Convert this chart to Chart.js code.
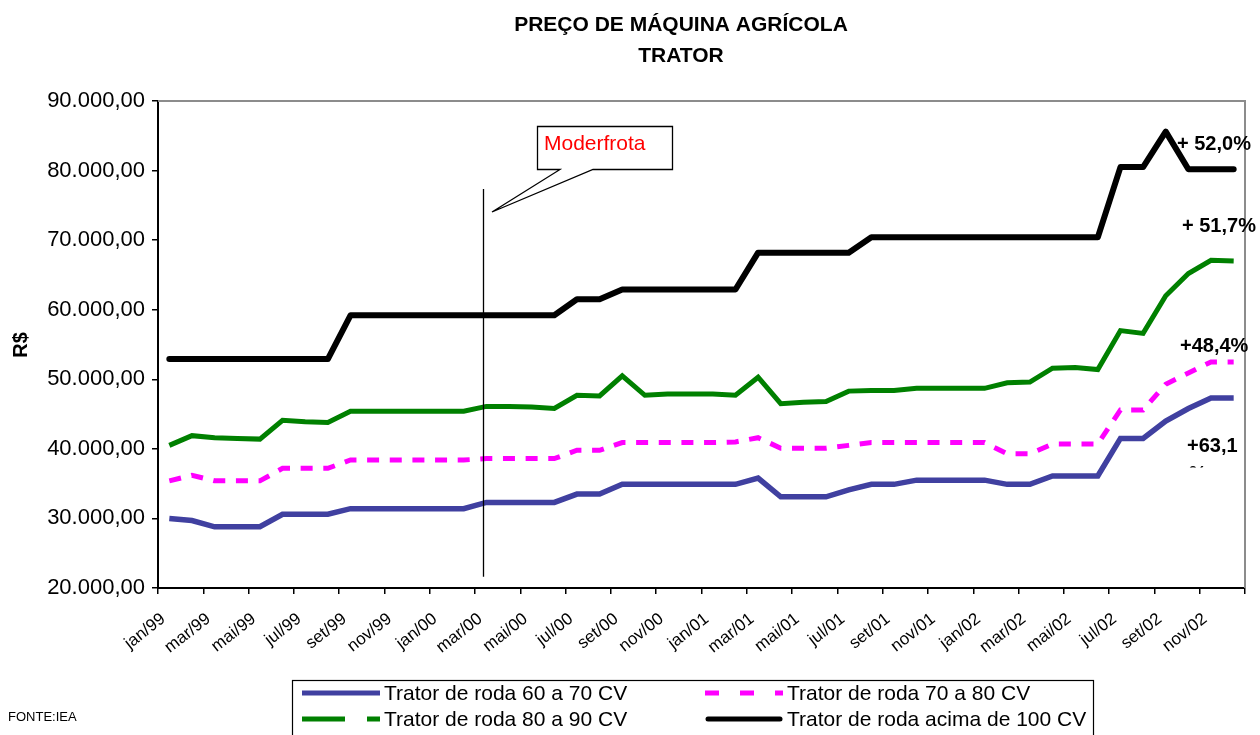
<!DOCTYPE html>
<html><head><meta charset="utf-8">
<script src="https://cdn.jsdelivr.net/npm/chart.js@4.4.1/dist/chart.umd.min.js"></script>
<style>html,body{margin:0;padding:0;background:#fff;overflow:hidden;} #c{display:block;}</style>
</head><body>
<canvas id="c" width="1260" height="735"></canvas>
<script>
// ---- DATA ----
const categories = [
  'jan/99','fev/99','mar/99','abr/99','mai/99','jun/99','jul/99','ago/99','set/99','out/99','nov/99','dez/99',
  'jan/00','fev/00','mar/00','abr/00','mai/00','jun/00','jul/00','ago/00','set/00','out/00','nov/00','dez/00',
  'jan/01','fev/01','mar/01','abr/01','mai/01','jun/01','jul/01','ago/01','set/01','out/01','nov/01','dez/01',
  'jan/02','fev/02','mar/02','abr/02','mai/02','jun/02','jul/02','ago/02','set/02','out/02','nov/02','dez/02'
];
const trator60a70 = [
  30000,29700,28800,28800,28800,30600,30600,30600,31400,31400,31400,31400,
  31400,31400,32300,32300,32300,32300,33500,33500,34900,34900,34900,34900,
  34900,34900,35800,33100,33100,33100,34100,34900,34900,35500,35500,35500,
  35500,34900,34900,36100,36100,36100,41500,41500,44000,45800,47300,47300
];
const trator70a80 = [
  35400,36200,35400,35400,35400,37200,37200,37200,38400,38400,38400,38400,
  38400,38400,38600,38600,38600,38600,39800,39800,40900,40900,40900,40900,
  40900,41000,41600,40100,40100,40100,40500,40900,40900,40900,40900,40900,
  40900,39300,39300,40700,40700,40700,45600,45600,49300,50900,52500,52500
];
const trator80a90 = [
  40500,41900,41600,41500,41400,44100,43900,43800,45400,45400,45400,45400,
  45400,45400,46100,46100,46000,45800,47700,47600,50500,47700,47900,47900,
  47900,47700,50300,46500,46700,46800,48300,48400,48400,48700,48700,48700,
  48700,49500,49600,51600,51700,51400,57000,56600,62000,65200,67100,67000
];
const tratorAcima100 = [
  52900,52900,52900,52900,52900,52900,52900,52900,59200,59200,59200,59200,
  59200,59200,59200,59200,59200,59200,61500,61500,62900,62900,62900,62900,
  62900,62900,68200,68200,68200,68200,68200,70400,70400,70400,70400,70400,
  70400,70400,70400,70400,70400,70400,80500,80500,85600,80200,80200,80200
];
const seriesNames = ['Trator de roda 60 a 70 CV','Trator de roda 70 a 80 CV','Trator de roda 80 a 90 CV','Trator de roda acima de 100 CV'];
const yMin = 20000, yMax = 90000, yStep = 10000;
const variations = ['+ 52,0%','+ 51,7%','+48,4%','+63,1'];
const titleLines = ['PREÇO DE MÁQUINA AGRÍCOLA','TRATOR'];

// ---- helpers ----
const FONT = '"Liberation Sans", Arial, Helvetica, sans-serif';
function fmtBR(v){
  const s = Math.round(v).toString().replace(/\B(?=(\d{3})+(?!\d))/g,'.');
  return s + ',00';
}
const COLORS = ['#4040A0','#FF00FF','#008000','#000000'];

const decor = {
  id:'decor',
  beforeDatasetsDraw(chart){
    const {ctx, chartArea:a} = chart;
    ctx.save();
    ctx.strokeStyle = '#8c8c8c'; ctx.lineWidth = 2;
    ctx.beginPath();
    ctx.moveTo(a.left, a.top); ctx.lineTo(a.right, a.top); ctx.lineTo(a.right, a.bottom);
    ctx.stroke();
    ctx.restore();
  },
  afterDatasetsDraw(chart){
    const {ctx} = chart;
    const xs = chart.scales.x, ys = chart.scales.y;
    ctx.save();
    // Moderfrota vertical marker
    const vx = Math.round(xs.getPixelForValue(13.86)) + 0.5;
    ctx.strokeStyle = '#000'; ctx.lineWidth = 1.3;
    ctx.beginPath();
    ctx.moveTo(vx, ys.getPixelForValue(77350));
    ctx.lineTo(vx, ys.getPixelForValue(21600));
    ctx.stroke();
    // callout box
    ctx.lineWidth = 1.3;
    ctx.fillStyle = '#fff';
    ctx.beginPath();
    ctx.moveTo(537.5,126.5); ctx.lineTo(672.5,126.5); ctx.lineTo(672.5,169.5);
    ctx.lineTo(593,169.5); ctx.lineTo(492,212); ctx.lineTo(560,169.5);
    ctx.lineTo(537.5,169.5); ctx.closePath();
    ctx.fill(); ctx.stroke();
    ctx.fillStyle = '#ff0000';
    ctx.font = '21px ' + FONT;
    ctx.textBaseline = 'middle'; ctx.textAlign = 'left';
    ctx.fillText('Moderfrota', 544, 144);
    // variation labels
    ctx.fillStyle = '#000';
    ctx.font = 'bold 20px ' + FONT;
    ctx.fillText(variations[0], 1177, 144);
    ctx.fillText(variations[1], 1182, 226);
    ctx.fillText(variations[2], 1180, 346);
    ctx.fillText(variations[3], 1187, 446);
    ctx.save();
    ctx.beginPath(); ctx.rect(1180, 455, 60, 12.5); ctx.clip();
    ctx.fillText('%', 1189, 474);
    ctx.restore();
    ctx.restore();
  },
  afterDraw(chart){
    const {ctx} = chart;
    ctx.save();
    ctx.fillStyle = '#000';
    ctx.textBaseline = 'middle';
    ctx.textAlign = 'center';
    ctx.font = 'bold 21px ' + FONT;
    ctx.fillText(titleLines[0], 681, 25);
    ctx.fillText(titleLines[1], 681, 56);
    // y title
    ctx.save();
    ctx.translate(21, 345); ctx.rotate(-Math.PI/2);
    ctx.font = 'bold 20px ' + FONT;
    ctx.fillText('R$', 0, 0);
    ctx.restore();
    // source
    ctx.textAlign = 'left';
    ctx.font = '13px ' + FONT;
    ctx.fillText('FONTE:IEA', 8, 717);
    // legend box
    ctx.strokeStyle = '#000'; ctx.lineWidth = 1.2;
    ctx.strokeRect(292.5, 680.5, 801, 70);
    const rows = [693, 719];
    const cols = [302, 705];
    const items = [[0,0,0],[1,1,0],[2,0,1],[3,1,1]];
    items.forEach(([si,c,r])=>{
      const x0 = cols[c], y = rows[r];
      ctx.save();
      ctx.strokeStyle = COLORS[si];
      ctx.lineWidth = 5;
      ctx.lineCap = 'butt';
      if (si===1) ctx.setLineDash([14,21]);
      if (si===2) ctx.setLineDash([43,22]);
      if (si===3) { ctx.lineCap='round'; }
      ctx.beginPath();
      ctx.moveTo(x0 + (si===3?3:0), y); ctx.lineTo(x0 + 78 - (si===3?3:0), y);
      ctx.stroke();
      ctx.restore();
      ctx.font = '21px ' + FONT;
      ctx.fillStyle = '#000';
      ctx.fillText(seriesNames[si], x0 + 82, y + 1);
    });
    ctx.restore();
  }
};

const ctx = document.getElementById('c').getContext('2d');
new Chart(ctx, {
  type:'line',
  data:{
    labels: categories,
    datasets:[
      {label:seriesNames[0], data:trator60a70, borderColor:COLORS[0], borderWidth:5.5, pointRadius:0, tension:0, borderCapStyle:'butt', borderJoinStyle:'miter'},
      {label:seriesNames[1], data:trator70a80, borderColor:COLORS[1], borderWidth:5, pointRadius:0, tension:0, borderDash:[12,10.65], borderCapStyle:'butt'},
      {label:seriesNames[2], data:trator80a90, borderColor:COLORS[2], borderWidth:5, pointRadius:0, tension:0, borderCapStyle:'butt'},
      {label:seriesNames[3], data:tratorAcima100, borderColor:COLORS[3], borderWidth:6, pointRadius:0, tension:0, borderCapStyle:'round', borderJoinStyle:'round'}
    ]
  },
  options:{
    responsive:false, animation:false, events:[],
    layout:{padding:{top:101, right:15, left:0, bottom:0}},
    plugins:{legend:{display:false}, tooltip:{enabled:false}, title:{display:false}},
    scales:{
      x:{
        type:'category', offset:true,
        grid:{offset:true, drawOnChartArea:false, drawTicks:true, tickLength:6, lineWidth:1.5,
          color:(c)=> (c.index===undefined || c.index%2===0) ? '#000' : 'rgba(0,0,0,0)'},
        border:{color:'#000', width:2},
        ticks:{autoSkip:false, minRotation:38, maxRotation:38, color:'#000', padding:15, labelOffset:-6,
          font:{family:FONT, size:17},
          callback:function(v,i){ return i%2===0 ? categories[i] : ''; }},
        afterFit:(s)=>{ s.height = 735 - 588; s.paddingLeft = 0; s.paddingRight = 0; }
      },
      y:{
        min:yMin, max:yMax,
        grid:{drawOnChartArea:false, drawTicks:true, tickLength:6, color:'#000', lineWidth:1.5},
        border:{color:'#000', width:2},
        ticks:{stepSize:yStep, color:'#000', padding:7, font:{family:FONT, size:22},
          callback:(v)=>fmtBR(v)},
        afterFit:(s)=>{ s.width = 158; s.paddingTop = 0; s.paddingBottom = 0; }
      }
    }
  },
  plugins:[decor]
});
</script>
</body></html>
